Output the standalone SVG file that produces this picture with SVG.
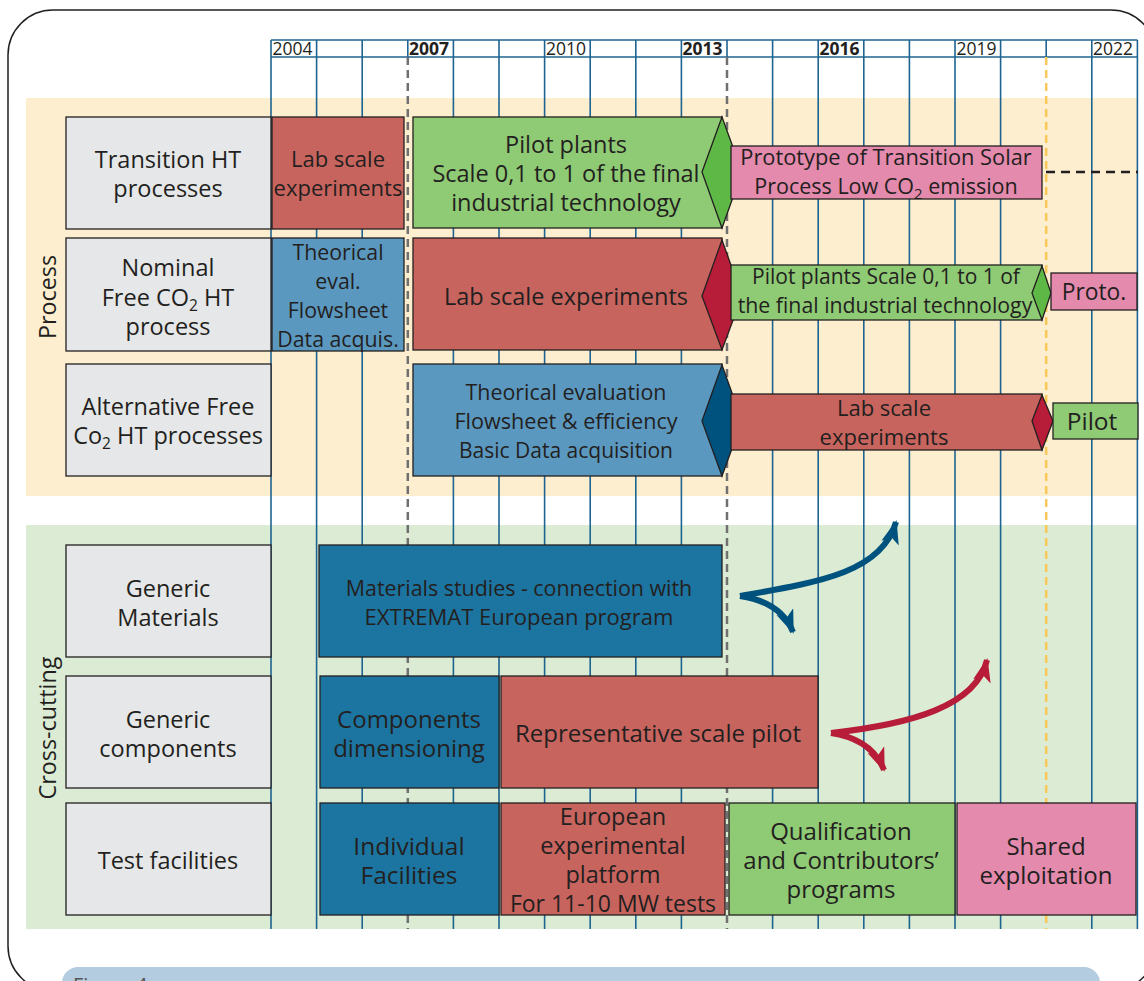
<svg xmlns="http://www.w3.org/2000/svg" width="1144" height="981" viewBox="0 0 1144 981">
<style>
.t{font-family:"Open Sans","Liberation Sans",sans-serif;font-size:23.5px;fill:#231f20;text-anchor:middle}
.yr{font-family:"Open Sans","Liberation Sans",sans-serif;font-size:17.5px;fill:#231f20}
.b{font-weight:bold}
.lbl{fill:#e6e7e8;stroke:#231f20;stroke-width:1.3}
.red{fill:#c8645e;stroke:#231f20;stroke-width:1.3}
.grn{fill:#8fca75;stroke:#231f20;stroke-width:1.3}
.pnk{fill:#e38aad;stroke:#231f20;stroke-width:1.3}
.lb{fill:#5b98c0;stroke:#231f20;stroke-width:1.3}
.db{fill:#1c75a0;stroke:#231f20;stroke-width:1.3}
.g{stroke:#1e6491;stroke-width:1.6;fill:none}
.gd{stroke:#707070;stroke-width:2.5;stroke-dasharray:8 5;fill:none}
.yd{stroke:#f9c85a;stroke-width:2.5;stroke-dasharray:8 5;fill:none}
</style>
<defs>
<marker id="ab" markerUnits="userSpaceOnUse" markerWidth="26" markerHeight="20" refX="22" refY="9" orient="auto" viewBox="0 0 26 20">
<path d="M0,0 L24,9 L0,18 L6,9 Z" fill="#00527e"/>
</marker>
<marker id="ar" markerUnits="userSpaceOnUse" markerWidth="26" markerHeight="20" refX="22" refY="9" orient="auto" viewBox="0 0 26 20">
<path d="M0,0 L24,9 L0,18 L6,9 Z" fill="#b71c38"/>
</marker>
</defs>
<rect x="0" y="0" width="1144" height="981" fill="#ffffff"/>
<rect x="8" y="10" width="1148" height="981" rx="45" fill="#ffffff" stroke="#231f20" stroke-width="1.5"/>
<rect x="62" y="967" width="1038" height="40" rx="16" fill="#b4cce0"/>
<text x="73" y="992" font-family="'Open Sans','Liberation Sans',sans-serif" font-size="20" fill="#555555">Figure 4</text>

<!-- bands -->
<rect x="26" y="98" width="1112" height="398" fill="#fdeecf"/>
<rect x="26" y="525" width="1112" height="404" fill="#dcebd3"/>

<!-- grid -->
<g id="grid">
<rect x="271" y="40" width="866.4" height="17" fill="#ffffff"/>
<line class="g" x1="271" y1="40" x2="1137.4" y2="40"/>
<line class="g" x1="271" y1="57" x2="1137.4" y2="57"/>
<line class="g" x1="271" y1="40" x2="271" y2="929"/>
<line class="g" x1="316.6" y1="40" x2="316.6" y2="929"/>
<line class="g" x1="362.2" y1="40" x2="362.2" y2="929"/>
<line class="g" x1="407.8" y1="40" x2="407.8" y2="57"/>
<line class="gd" x1="407.8" y1="57" x2="407.8" y2="929"/>
<line class="g" x1="453.4" y1="40" x2="453.4" y2="929"/>
<line class="g" x1="499" y1="40" x2="499" y2="929"/>
<line class="g" x1="544.6" y1="40" x2="544.6" y2="929"/>
<line class="g" x1="590.2" y1="40" x2="590.2" y2="929"/>
<line class="g" x1="635.8" y1="40" x2="635.8" y2="929"/>
<line class="g" x1="681.4" y1="40" x2="681.4" y2="929"/>
<line class="g" x1="727" y1="40" x2="727" y2="57"/>
<line class="gd" x1="727" y1="57" x2="727" y2="929"/>
<line class="g" x1="772.6" y1="40" x2="772.6" y2="929"/>
<line class="g" x1="818.2" y1="40" x2="818.2" y2="929"/>
<line class="g" x1="863.8" y1="40" x2="863.8" y2="929"/>
<line class="g" x1="909.4" y1="40" x2="909.4" y2="929"/>
<line class="g" x1="955" y1="40" x2="955" y2="929"/>
<line class="g" x1="1000.6" y1="40" x2="1000.6" y2="929"/>
<line class="g" x1="1046.2" y1="40" x2="1046.2" y2="57"/>
<line class="yd" x1="1046.2" y1="57" x2="1046.2" y2="929"/>
<line class="g" x1="1091.8" y1="40" x2="1091.8" y2="929"/>
<line class="g" x1="1137.4" y1="40" x2="1137.4" y2="929"/>
<text class="yr" x="272.5" y="55">2004</text>
<text class="yr b" x="409" y="55">2007</text>
<text class="yr" x="546" y="55">2010</text>
<text class="yr b" x="682.5" y="55">2013</text>
<text class="yr b" x="819.5" y="55">2016</text>
<text class="yr" x="956.5" y="55">2019</text>
<text class="yr" x="1093" y="55">2022</text>
</g>

<!-- section labels -->
<text class="t" style="font-size:23.3px" transform="translate(56,297) rotate(-90)">Process</text>
<text class="t" style="font-size:23.3px" transform="translate(56,728) rotate(-90)">Cross-cutting</text>

<!-- row labels -->
<g id="lbl-transition">
<rect class="lbl" x="66" y="117" width="205" height="112"/>
<text class="t" x="168" y="167.5">Transition HT</text>
<text class="t" x="168" y="196.5">processes</text>
</g>
<g id="lbl-nominal">
<rect class="lbl" x="66" y="238" width="205" height="113"/>
<text class="t" x="168" y="275.5">Nominal</text>
<text class="t" x="168" y="305.5">Free CO<tspan style="font-size:15.5px" dy="5">2</tspan><tspan dy="-5"> HT</tspan></text>
<text class="t" x="168" y="334.5">process</text>
</g>
<g id="lbl-alternative">
<rect class="lbl" x="66" y="364" width="205" height="112"/>
<text class="t" x="168" y="414.5">Alternative Free</text>
<text class="t" x="168" y="443.5">Co<tspan style="font-size:15.5px" dy="5">2</tspan><tspan dy="-5"> HT processes</tspan></text>
</g>
<g id="lbl-materials">
<rect class="lbl" x="66" y="545" width="205" height="112"/>
<text class="t" x="168" y="596.5">Generic</text>
<text class="t" x="168" y="625.5">Materials</text>
</g>
<g id="lbl-components">
<rect class="lbl" x="66" y="676" width="205" height="112"/>
<text class="t" x="168" y="727.5">Generic</text>
<text class="t" x="168" y="756.5">components</text>
</g>
<g id="lbl-test">
<rect class="lbl" x="66" y="803" width="205" height="112"/>
<text class="t" x="168" y="868.5">Test facilities</text>
</g>

<!-- row 1 -->
<g id="r1-lab">
<rect class="red" x="272" y="117" width="132" height="112"/>
<text class="t" style="font-size:22px" x="338" y="167">Lab scale</text>
<text class="t" style="font-size:22px" x="338" y="196">experiments</text>
</g>
<g id="r1-pilot">
<rect class="grn" x="413" y="117" width="309" height="111"/>
<polygon points="722,117 742,172 722,228 702,172" fill="#5db845" stroke="#231f20" stroke-width="1.3"/>
<text class="t" x="566" y="152.5">Pilot plants</text>
<text class="t" x="566" y="181.5">Scale 0,1 to 1 of the final</text>
<text class="t" x="566" y="210.5">industrial technology</text>
</g>
<g id="r1-proto">
<rect class="pnk" x="731" y="146" width="311" height="53"/>
<text class="t" style="font-size:21.8px" x="886" y="164.8">Prototype of Transition Solar</text>
<text class="t" style="font-size:21.5px" x="886" y="193.7">Process Low CO<tspan style="font-size:15px" dy="5">2</tspan><tspan dy="-5"> emission</tspan></text>
</g>

<!-- row 2 -->
<g id="r2-theo">
<rect class="lb" x="272" y="238" width="132" height="113"/>
<text class="t" style="font-size:21.3px" x="338" y="259.7">Theorical</text>
<text class="t" style="font-size:21.3px" x="338" y="288.7">eval.</text>
<text class="t" style="font-size:21.3px" x="338" y="317.7">Flowsheet</text>
<text class="t" style="font-size:21.3px" x="338" y="346.7">Data acquis.</text>
</g>
<g id="r2-lab">
<rect class="red" x="413" y="238" width="309" height="112"/>
<polygon points="722,240 742,296 722,350 702,296" fill="#b71c38" stroke="#231f20" stroke-width="1.3"/>
<text class="t" x="566" y="304.5">Lab scale experiments</text>
</g>
<g id="r2-pilot">
<rect class="grn" x="731" y="265" width="311" height="55"/>
<polygon points="1042,266 1051,293 1042,320 1032,293" fill="#5db845" stroke="#231f20" stroke-width="1.3"/>
<text class="t" style="font-size:21px" x="886" y="284.3">Pilot plants Scale 0,1 to 1 of</text>
<text class="t" style="font-size:21.3px" x="885" y="312.7">the final industrial technology</text>
</g>
<g id="r2-proto">
<rect class="pnk" x="1051" y="273" width="86" height="37"/>
<text class="t" style="font-size:22.8px" x="1094" y="300">Proto.</text>
</g>

<!-- row 3 -->
<g id="r3-theo">
<rect class="lb" x="413" y="364" width="309" height="112"/>
<polygon points="722,365 742,421 722,476 702,421" fill="#00527e" stroke="#231f20" stroke-width="1.3"/>
<text class="t" style="font-size:21.4px" x="566" y="399.7">Theorical evaluation</text>
<text class="t" style="font-size:21.6px" x="566" y="428.8">Flowsheet &amp; efficiency</text>
<text class="t" style="font-size:21px" x="566" y="457.5">Basic Data acquisition</text>
</g>
<g id="r3-lab">
<rect class="red" x="731" y="394" width="311" height="56"/>
<polygon points="1042,395 1053,421 1042,450 1032,421" fill="#b71c38" stroke="#231f20" stroke-width="1.3"/>
<text class="t" style="font-size:22px" x="884" y="415.9">Lab scale</text>
<text class="t" style="font-size:22px" x="884" y="444.9">experiments</text>
</g>
<g id="r3-pilot">
<rect class="grn" x="1053" y="403" width="85" height="36"/>
<text class="t" style="font-size:24.5px" x="1092" y="429.8">Pilot</text>
</g>

<!-- row 4 -->
<g id="r4-materials">
<rect class="db" x="319" y="545" width="403" height="112"/>
<text class="t" style="font-size:21.4px" x="519" y="595.7">Materials studies - connection with</text>
<text class="t" style="font-size:22px" x="519" y="624.9">EXTREMAT European program</text>
</g>

<!-- row 5 -->
<g id="r5-components">
<rect class="db" x="320" y="676" width="179" height="112"/>
<text class="t" style="font-size:24px" x="409" y="727.6">Components</text>
<text class="t" style="font-size:24px" x="409" y="756.6">dimensioning</text>
</g>
<g id="r5-pilot">
<rect class="red" x="501" y="676" width="317" height="112"/>
<text class="t" style="font-size:24px" x="658" y="741.6">Representative scale pilot</text>
</g>

<!-- row 6 -->
<g id="r6-individual">
<rect class="db" x="320" y="803" width="179" height="112"/>
<text class="t" style="font-size:24.5px" x="409" y="854.8">Individual</text>
<text class="t" style="font-size:24.5px" x="409" y="883.8">Facilities</text>
</g>
<g id="r6-european">
<rect class="red" x="501" y="803" width="224" height="112"/>
<text class="t" style="font-size:23.5px" x="613" y="825.3">European</text>
<text class="t" style="font-size:23.5px" x="613" y="854.3">experimental</text>
<text class="t" style="font-size:23.5px" x="613" y="883.3">platform</text>
<text class="t" style="font-size:23px" x="613" y="912">For 11-10 MW tests</text>
</g>
<g id="r6-qualification">
<rect class="grn" x="729" y="803" width="226" height="112"/>
<text class="t" style="font-size:24px" x="841" y="839.6">Qualification</text>
<text class="t" style="font-size:24px" x="841" y="868.6">and Contributors’</text>
<text class="t" style="font-size:24px" x="841" y="897.6">programs</text>
</g>
<g id="r6-shared">
<rect class="pnk" x="957" y="803" width="179" height="112"/>
<text class="t" style="font-size:24px" x="1046" y="854.6">Shared</text>
<text class="t" style="font-size:24px" x="1046" y="883.6">exploitation</text>
</g>

<!-- connectors -->
<g id="connectors" fill="none">
<line x1="1046" y1="172" x2="1138" y2="172" stroke="#231f20" stroke-width="2.5" stroke-dasharray="9 6"/>
<path d="M740,596 C820,582 882,572 896,522" stroke="#00527e" stroke-width="6" marker-end="url(#ab)"/>
<path d="M740,596 C767,600 785,612 793,632" stroke="#00527e" stroke-width="6" marker-end="url(#ab)"/>
<path d="M831,733 C912,724 976,706 987,660" stroke="#b71c38" stroke-width="6" marker-end="url(#ar)"/>
<path d="M831,733 C858,737 876,750 884,770" stroke="#b71c38" stroke-width="6" marker-end="url(#ar)"/>
</g>
</svg>
